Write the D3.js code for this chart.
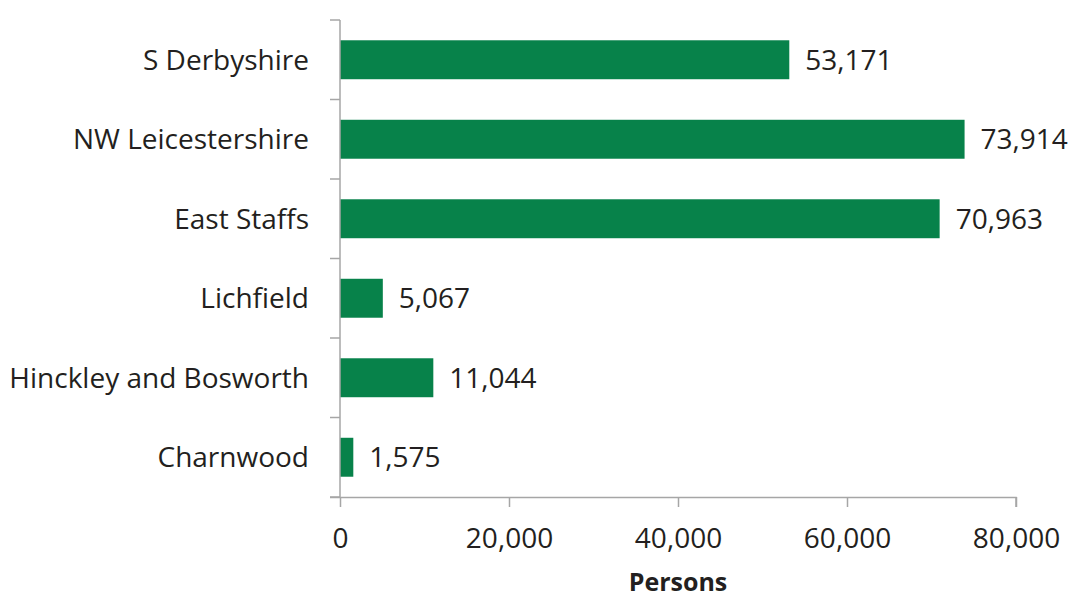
<!DOCTYPE html>
<html>
<head>
<meta charset="utf-8">
<script src="https://cdn.jsdelivr.net/npm/d3@7"></script>
<style>
  html, body { margin: 0; padding: 0; background: #fff; }
  svg text { font-family: "Open Sans", "Noto Sans", sans-serif; fill: #231f20; }
</style>
</head>
<body>
<svg id="chart" width="1071" height="597"></svg>
<script>
const categories = ["S Derbyshire", "NW Leicestershire", "East Staffs", "Lichfield", "Hinckley and Bosworth", "Charnwood"];
const values = [53171, 73914, 70963, 5067, 11044, 1575];
const xTicks = [0, 20000, 40000, 60000, 80000];
const xTitle = "Persons";

const svg = d3.select("#chart");
const plot = { left: 340, right: 1016, top: 20, bottom: 497 };
const fontSize = 28;

const x = d3.scaleLinear().domain([0, 80000]).range([plot.left, plot.right]);
const y = d3.scaleBand().domain(categories).range([plot.top, plot.bottom])
  .paddingInner(0.51).paddingOuter(0.255);

const fmt = d3.format(",");
const axisColor = "#a6a6a6";

// bars
svg.append("g").selectAll("rect").data(values).join("rect")
  .attr("x", x(0))
  .attr("y", (d, i) => y(categories[i]))
  .attr("width", d => x(d) - x(0))
  .attr("height", y.bandwidth())
  .attr("fill", "#07824a");

// value labels
svg.append("g").selectAll("text").data(values).join("text")
  .attr("x", d => x(d) + 16)
  .attr("y", (d, i) => y(categories[i]) + y.bandwidth() / 2)
  .attr("dy", "0.36em")
  .attr("font-size", fontSize)
  .text(d => fmt(d));

// y axis: line with ticks at band boundaries
const yBounds = d3.range(categories.length + 1).map(i => plot.top + i * (plot.bottom - plot.top) / categories.length);
const gy = svg.append("g");
gy.append("line").attr("x1", x(0)).attr("x2", x(0)).attr("y1", plot.top).attr("y2", plot.bottom)
  .attr("stroke", axisColor).attr("stroke-width", 1.5);
gy.selectAll("line.t").data(yBounds).join("line").attr("class", "t")
  .attr("x1", x(0) - 10).attr("x2", x(0)).attr("y1", d => d).attr("y2", d => d)
  .attr("stroke", axisColor).attr("stroke-width", 1.5);
gy.selectAll("text").data(categories).join("text")
  .attr("x", 309)
  .attr("y", d => y(d) + y.bandwidth() / 2)
  .attr("dy", "0.36em")
  .attr("text-anchor", "end")
  .attr("font-size", fontSize)
  .text(d => d);

// x axis
const xAxis = d3.axisBottom(x).tickValues(xTicks).tickFormat(fmt).tickSize(10);
const gx = svg.append("g").attr("transform", `translate(0,${plot.bottom})`).call(xAxis);
gx.select(".domain").attr("stroke", axisColor).attr("stroke-width", 1.5)
  .attr("d", `M${x(0) - 10},0.5H${x(80000)}V10`);
gx.selectAll(".tick line").attr("stroke", axisColor).attr("stroke-width", 1.5);
gx.selectAll(".tick text").attr("font-size", fontSize).attr("font-family", null)
  .attr("fill", "#231f20").attr("y", 51).attr("dy", "0");

// axis title
svg.append("text")
  .attr("x", (x(0) + x(80000)) / 2)
  .attr("y", 591)
  .attr("text-anchor", "middle")
  .attr("font-size", 25)
  .attr("font-weight", "bold")
  .text(xTitle);
</script>
</body>
</html>
